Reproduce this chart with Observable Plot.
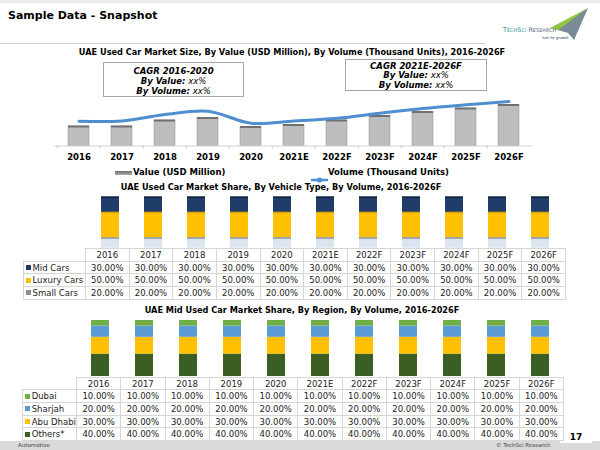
<!DOCTYPE html>
<html><head><meta charset="utf-8">
<script src="https://cdn.jsdelivr.net/npm/d3@7"></script>
<script src="https://cdn.jsdelivr.net/npm/@observablehq/plot@0.6"></script>
<style>
body{margin:0;width:600px;height:450px;position:relative;overflow:hidden;background:#fff;font-family:"DejaVu Sans",Verdana,sans-serif;color:#000;}
.abs{position:absolute;}
.ttl{position:absolute;font-weight:bold;font-size:8.2px;white-space:nowrap;transform:translateX(-50%);}
.box{position:absolute;border:1px solid #a6a6a6;box-sizing:border-box;text-align:center;font-size:8.5px;font-style:italic;background:#fff;}
.box b{font-weight:bold;}
.cell{position:absolute;box-sizing:border-box;border:1px solid #d6d6d6;font-size:8.5px;color:#222;white-space:nowrap;display:flex;align-items:center;}
.leg{position:absolute;font-size:8.5px;font-weight:bold;white-space:nowrap;}
</style></head><body>
<script>
// ---------- data ----------
const years = ["2016","2017","2018","2019","2020","2021E","2022F","2023F","2024F","2025F","2026F"];
const valueUSD = [1950,1950,2550,2800,1900,2100,2550,3000,3400,3750,4100];
const volumeK = [248,250,315,348,228,250,278,328,375,412,445];

const vehicleLabels = ["Mid Cars","Luxury Cars","Small Cars"];
const midCars    = [30,30,30,30,30,30,30,30,30,30,30];
const luxuryCars = [50,50,50,50,50,50,50,50,50,50,50];
const smallCars  = [20,20,20,20,20,20,20,20,20,20,20];

const regionLabels = ["Dubai","Sharjah","Abu Dhabi","Others*"];
const dubai    = [10,10,10,10,10,10,10,10,10,10,10];
const sharjah  = [20,20,20,20,20,20,20,20,20,20,20];
const abuDhabi = [30,30,30,30,30,30,30,30,30,30,30];
const others   = [40,40,40,40,40,40,40,40,40,40,40];

const vehicleColors = {"Mid Cars":"#1f3d68","Luxury Cars":"#ffc000","Small Cars":"#dbe4ef"};
const vehicleTop = {"Mid Cars":"#11243f","Luxury Cars":"#e0a800","Small Cars":"#8d98a8"};
const vehicleLegend = {"Mid Cars":"#1f3864","Luxury Cars":"#ffc000","Small Cars":"#8c8c8c"};
const regionColors = {"Dubai":"#70ad47","Sharjah":"#5b9bd5","Abu Dhabi":"#ffc000","Others*":"#3b5e24"};

// ---------- helpers ----------
function place(el, left, top){ el.style.position="absolute"; el.style.left=left+"px"; el.style.top=top+"px"; document.body.appendChild(el); return el; }
function div(cls, html, styles){ const d=document.createElement("div"); if(cls) d.className=cls; d.innerHTML=html||""; Object.assign(d.style, styles||{}); document.body.appendChild(d); return d; }

// ---------- header / footer ----------
div("abs","",{left:"0",top:"0",width:"600px",height:"3px",background:"#ececec"});
div("abs","Sample Data - Snapshot",{left:"8px",top:"9px",fontSize:"11px",fontWeight:"bold"});
div("abs","",{left:"0",top:"43px",width:"485px",height:"1px",background:"#cfcfcf"});
div("abs",`<svg width="100" height="42">
  <polygon points="50,26 88,6 66,30" fill="#8dc63f"/>
  <polygon points="58,28 88,6 74,38 68,31" fill="#7a8a96"/>
  <text x="3" y="30" font-size="6.4" font-family="DejaVu Sans" fill="#2e9a8a">T<tspan font-size="5">ECH</tspan>S<tspan font-size="5">CI</tspan> <tspan fill="#5b6b7a">R<tspan font-size="5">ESEARCH</tspan></tspan></text>
  <text x="42" y="37" font-size="3.6" font-style="italic" fill="#1f3864">fuel for growth</text>
</svg>`,{left:"500px",top:"2px"});
div("abs","",{left:"0",top:"441px",width:"600px",height:"9px",background:"#d9d9d9"});
div("abs","Automotive",{left:"18px",top:"442px",fontSize:"5.5px",color:"#444"});
div("abs","© TechSci Research",{left:"496px",top:"442px",fontSize:"5.5px",color:"#444"});
div("abs","17",{left:"560px",top:"432px",width:"32px",height:"11px",background:"#fff",fontSize:"9px",fontWeight:"bold",textAlign:"center",lineHeight:"11px"});

// ---------- chart 1 ----------
div("ttl","UAE Used Car Market Size, By Value (USD Million), By Volume (Thousand Units), 2016-2026F",{left:"292px",top:"47px"});
const c1 = years.map((y,i)=>({year:y, value:valueUSD[i], volume:volumeK[i]}));
const xc1 = {type:"band", domain:years, paddingInner:0.52, paddingOuter:0.26};
const p1 = Plot.plot({
  width:600, height:110, marginLeft:54.25, marginRight:67.25, marginTop:25.5, marginBottom:24.5,
  x:{...xc1, axis:null}, y:{domain:[0,6000], axis:null},
  style:{background:"transparent", color:"#000", fontFamily:"DejaVu Sans"},
  marks:[
    Plot.barY(c1,{x:"year", y:"value", fill:"#bdbdbd", stroke:"#9c9c9c", strokeWidth:0.6}),
    Plot.tickY(c1,{x:"year", y:"value", stroke:"#707070", strokeWidth:2}),
    Plot.ruleY([0],{stroke:"#d0d0d0"}),
    Plot.axisX({label:null, tickSize:3, tickFormat:()=>"", dx:-21.75, stroke:"#c8c8c8"}),
    Plot.axisX({label:null, tickSize:0, tickPadding:8, fontSize:8.5, fontWeight:"bold"})
  ]
});
place(p1,0,60);
const p1b = Plot.plot({
  width:600, height:110, marginLeft:54.25, marginRight:67.25, marginTop:25.5, marginBottom:24.5,
  x:{...xc1, axis:null}, y:{domain:[0,600], axis:null},
  style:{background:"transparent"},
  marks:[ Plot.line(c1,{x:"year", y:"volume", stroke:"#4f8fd0", strokeWidth:3, curve:"catmull-rom"}) ]
});
place(p1b,0,60);
div("box","<b>CAGR 2016-2020</b><br><b>By Value:</b> xx%<br><b>By Volume:</b> xx%",{left:"103px",top:"62px",width:"141px",height:"35px",lineHeight:"10px",paddingTop:"3px"});
div("box","<b>CAGR 2021E-2026F</b><br><b>By Value:</b> xx%<br><b>By Volume:</b> xx%",{left:"345px",top:"59px",width:"142px",height:"32px",lineHeight:"9.6px",paddingTop:"1.5px"});
div("abs","",{left:"115px",top:"171px",width:"17px",height:"4px",background:"linear-gradient(#6f6f6f,#a9a9a9)"});
div("leg","Value (USD Million)",{left:"133px",top:"167px"});
div("abs",`<svg width="18" height="8"><line x1="0" y1="4" x2="17" y2="4" stroke="#4f8fd0" stroke-width="2.5"/><circle cx="8.5" cy="4" r="2.6" fill="#4f8fd0"/></svg>`,{left:"311px",top:"169px"});
div("leg","Volume (Thousand Units)",{left:"328px",top:"167px"});

// ---------- tables ----------
function table(top, left, labelW, colW, rowH, rows){
  years.forEach((y,i)=>{
    div("cell",y,{left:(left+labelW+i*colW)+"px",top:top+"px",width:(colW+1)+"px",height:(rowH+1)+"px",justifyContent:"center"});
  });
  rows.forEach((r,j)=>{
    const t=top+(j+1)*rowH;
    div("cell",`<span style="display:inline-block;width:5px;height:5px;background:${r.color};margin:0 2px 0 2px"></span>${r.label}`,{left:left+"px",top:t+"px",width:(labelW+1)+"px",height:(rowH+1)+"px"});
    r.values.forEach((v,i)=>{
      div("cell",v.toFixed(2)+"%",{left:(left+labelW+i*colW)+"px",top:t+"px",width:(colW+1)+"px",height:(rowH+1)+"px",justifyContent:"center"});
    });
  });
}

// ---------- chart 2 ----------
div("ttl","UAE Used Car Market Share, By Vehicle Type, By Volume, 2016-2026F",{left:"281px",top:"182px"});
const vehicleSeries = [["Small Cars",smallCars],["Luxury Cars",luxuryCars],["Mid Cars",midCars]];
const c2 = vehicleSeries.flatMap(([k,arr])=>years.map((y,i)=>({year:y, type:k, share:arr[i]})));
const p2 = Plot.plot({
  width:600, height:58, marginLeft:85, marginRight:35, marginTop:6.7, marginBottom:0.3,
  x:{type:"band", domain:years, paddingInner:0.59, paddingOuter:0.295, axis:null},
  y:{domain:[0,100], axis:null},
  color:{domain:Object.keys(vehicleColors), range:Object.values(vehicleColors)},
  style:{background:"transparent"},
  marks:[
    Plot.barY(c2,{x:"year", y:"share", z:"type", fill:"type", order:null}),
    Plot.tickY(c2, Plot.stackY2({x:"year", y:"share", z:"type", stroke:d=>vehicleTop[d.type], strokeWidth:1.6}))
  ]
});
place(p2,0,190);
table(248, 22.5, 62.5, 43.64, 12.7, [
  {label:vehicleLabels[0], color:vehicleLegend["Mid Cars"], values:midCars},
  {label:vehicleLabels[1], color:vehicleLegend["Luxury Cars"], values:luxuryCars},
  {label:vehicleLabels[2], color:vehicleLegend["Small Cars"], values:smallCars}
]);

// ---------- chart 3 ----------
div("ttl","UAE Mid Used Car Market Share, By Region, By Volume, 2016-2026F",{left:"302px",top:"305px"});
const regionSeries = [["Others*",others],["Abu Dhabi",abuDhabi],["Sharjah",sharjah],["Dubai",dubai]];
const c3 = regionSeries.flatMap(([k,arr])=>years.map((y,i)=>({year:y, region:k, share:arr[i]})));
const p3 = Plot.plot({
  width:600, height:62, marginLeft:76, marginRight:37, marginTop:4, marginBottom:2,
  x:{type:"band", domain:years, paddingInner:0.593, paddingOuter:0.2965, axis:null},
  y:{domain:[0,100], axis:null},
  color:{domain:Object.keys(regionColors), range:Object.values(regionColors)},
  style:{background:"transparent"},
  marks:[ Plot.barY(c3,{x:"year", y:"share", z:"region", fill:"region"}) ]
});
place(p3,0,316);
table(376.7, 21.7, 54.3, 44.27, 12.66, [
  {label:regionLabels[0], color:regionColors["Dubai"], values:dubai},
  {label:regionLabels[1], color:regionColors["Sharjah"], values:sharjah},
  {label:regionLabels[2], color:regionColors["Abu Dhabi"], values:abuDhabi},
  {label:regionLabels[3], color:regionColors["Others*"], values:others}
]);
</script>
</body></html>
